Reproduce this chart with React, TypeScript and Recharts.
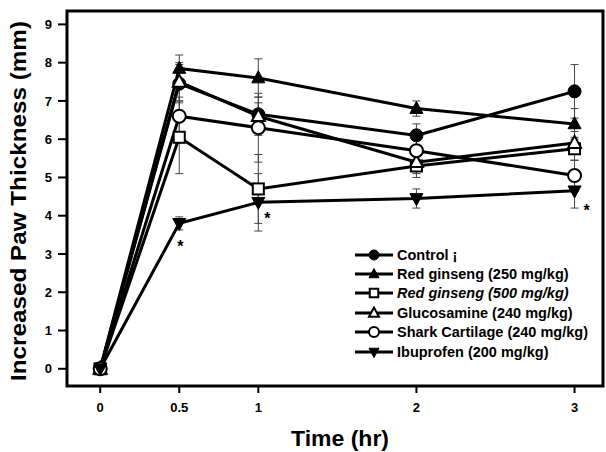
import React from 'react';
import { LineChart, Line, XAxis, YAxis, ErrorBar, ReferenceArea, Label, LabelList } from 'recharts';

// time points (hr)
const times = [0, 0.5, 1, 2, 3];

const control = [0, 7.45, 6.65, 6.1, 7.25];
const controlErr = [0, 0.5, 0.3, 0.3, 0.7];
const rg250 = [0, 7.85, 7.6, 6.8, 6.4];
const rg250Err = [0, 0.35, 0.5, 0.2, 0.4];
const rg500 = [0, 6.05, 4.7, 5.3, 5.75];
const rg500Err = [0, 0.95, 0.9, 0.3, 0.3];
const gluco = [0, 7.5, 6.6, 5.4, 5.9];
const glucoErr = [0, 0.5, 0.5, 0.3, 0.3];
const shark = [0, 6.6, 6.3, 5.7, 5.05];
const sharkErr = [0, 0.5, 0.9, 0.3, 0.4];
const ibu = [0, 3.8, 4.35, 4.45, 4.65];
const ibuErr = [0, 0.17, 0.75, 0.25, 0.45];
const ibuSig = ['', '*', '*', '', '*'];

const yTicks = [0, 1, 2, 3, 4, 5, 6, 7, 8, 9];

const series = [
  { key: 'control', name: 'Control ¡', marker: 'circle', italic: false },
  { key: 'rg250', name: 'Red ginseng (250 mg/kg)', marker: 'triangle', italic: false },
  { key: 'rg500', name: 'Red ginseng (500 mg/kg)', marker: 'openSquare', italic: true },
  { key: 'gluco', name: 'Glucosamine (240 mg/kg)', marker: 'openTriangle', italic: false },
  { key: 'shark', name: 'Shark Cartilage (240 mg/kg)', marker: 'openCircle', italic: false },
  { key: 'ibu', name: 'Ibuprofen (200 mg/kg)', marker: 'invTriangle', italic: false },
];

const table = times.map((t, i) => ({
  t,
  control: control[i], controlErr: controlErr[i],
  rg250: rg250[i], rg250Err: rg250Err[i],
  rg500: rg500[i], rg500Err: rg500Err[i],
  gluco: gluco[i], glucoErr: glucoErr[i],
  shark: shark[i], sharkErr: sharkErr[i],
  ibu: ibu[i], ibuErr: ibuErr[i],
  ibuSig: ibuSig[i],
}));

const FONT = '"Liberation Sans", Arial, Helvetica, sans-serif';

function Marker({ cx, cy, kind, s }: { cx: number; cy: number; kind: string; s: number }) {
  const open = { fill: '#fff', stroke: '#000', strokeWidth: 2 };
  const solid = { fill: '#000', stroke: '#000', strokeWidth: 1 };
  switch (kind) {
    case 'circle':
      return <circle cx={cx} cy={cy} r={s} {...solid} />;
    case 'openCircle':
      return <circle cx={cx} cy={cy} r={s} {...open} />;
    case 'triangle':
      return <polygon points={`${cx},${cy - s * 1.1} ${cx - s},${cy + s * 0.75} ${cx + s},${cy + s * 0.75}`} {...solid} />;
    case 'openTriangle':
      return <polygon points={`${cx},${cy - s * 1.1} ${cx - s},${cy + s * 0.75} ${cx + s},${cy + s * 0.75}`} {...open} />;
    case 'invTriangle':
      return <polygon points={`${cx - s},${cy - s * 0.75} ${cx + s},${cy - s * 0.75} ${cx},${cy + s * 1.1}`} {...solid} />;
    case 'openSquare':
      return <rect x={cx - s * 0.85} y={cy - s * 0.85} width={s * 1.7} height={s * 1.7} {...open} />;
    default:
      return null;
  }
}

const starOffsets: Record<number, [number, number]> = { 1: [1, 29], 2: [9, 22], 4: [12, 25] };

const renderStar = (props: any) => {
  const { x, y, value, index } = props;
  if (!value) return null;
  const [dx, dy] = starOffsets[index] || [10, 20];
  return (
    <text key={`star-${index}`} x={x + dx} y={y + dy} textAnchor="middle" fontFamily={FONT} fontWeight="bold" fontSize={16} fill="#000">
      {value}
    </text>
  );
};

const tickStyle = { fill: '#000', fontFamily: FONT, fontWeight: 'bold', fontSize: 13 };

function LegendBox() {
  return (
    <div style={{ position: 'absolute', left: 354, top: 245, fontFamily: FONT, fontWeight: 'bold', fontSize: 14.5, color: '#000' }}>
      {series.map((s) => (
        <div key={s.key} style={{ display: 'flex', alignItems: 'center', height: 19.4, whiteSpace: 'nowrap' }}>
          <svg width={42} height={16} style={{ display: 'block' }}>
            <line x1={1} y1={8} x2={39} y2={8} stroke="#000" strokeWidth={3} />
            <Marker cx={20} cy={8} kind={s.marker} s={5} />
          </svg>
          <span style={{ fontStyle: s.italic ? 'italic' : 'normal', marginLeft: 1 }}>{s.name}</span>
        </div>
      ))}
    </div>
  );
}

export default function App() {
  return (
    <div style={{ position: 'absolute', left: 0, top: 0, width: 606, height: 452, background: '#fff' }}>
      <LineChart width={606} height={452} data={table} margin={{ top: 11, right: 3, left: 27, bottom: 36 }}>
        <XAxis
          dataKey="t"
          type="number"
          domain={[-0.21, 3.18]}
          ticks={times}
          allowDataOverflow
          axisLine={false}
          tickLine={{ stroke: '#000', strokeWidth: 2 }}
          tickSize={7}
          tickMargin={10}
          tick={tickStyle}
          height={30}
        >
          <Label
            content={() => (
              <text x={340} y={446} textAnchor="middle" fontFamily={FONT} fontWeight="bold" fontSize={22} fill="#000" textLength={98} lengthAdjust="spacingAndGlyphs">
                Time (hr)
              </text>
            )}
          />
        </XAxis>
        <YAxis
          type="number"
          domain={[-0.45, 9.35]}
          ticks={yTicks}
          allowDataOverflow
          axisLine={false}
          tickLine={{ stroke: '#000', strokeWidth: 2 }}
          tickSize={9}
          tickMargin={6}
          tick={tickStyle}
          width={40}
        >
          <Label
            content={() => (
              <text x={0} y={0} transform="translate(26 201) rotate(-90)" textAnchor="middle" fontFamily={FONT} fontWeight="bold" fontSize={22} fill="#000" textLength={360} lengthAdjust="spacingAndGlyphs">
                Increased Paw Thickness (mm)
              </text>
            )}
          />
        </YAxis>
        <ReferenceArea x1={-0.21} x2={3.18} y1={-0.45} y2={9.35} fill="none" stroke="#000" strokeWidth={3} ifOverflow="visible" />
        {series.map((s) => (
          <Line
            key={s.key}
            dataKey={s.key}
            stroke="#000"
            strokeWidth={3}
            isAnimationActive={false}
            activeDot={false}
            dot={(p: any) => <Marker key={`${s.key}-${p.index}`} cx={p.cx} cy={p.cy} kind={s.marker} s={6.5} />}
          >
            <ErrorBar dataKey={`${s.key}Err`} width={4} stroke="#444" strokeWidth={1} direction="y" />
            {s.key === 'ibu' && <LabelList dataKey="ibuSig" content={renderStar} />}
          </Line>
        ))}
      </LineChart>
      <LegendBox />
    </div>
  );
}
